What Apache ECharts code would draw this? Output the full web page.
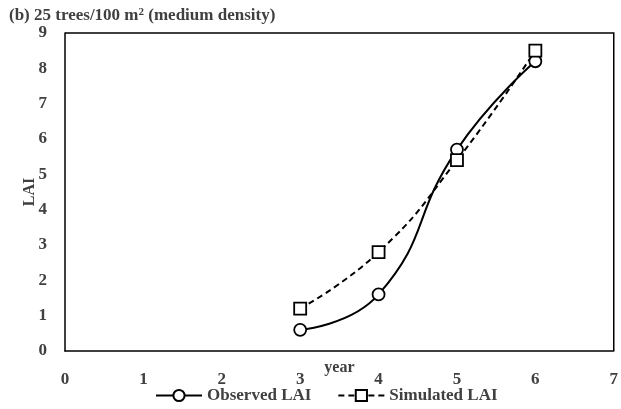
<!DOCTYPE html>
<html>
<head>
<meta charset="utf-8">
<script src="https://cdn.jsdelivr.net/npm/echarts@6/dist/echarts.min.js"></script>
<style>
  html, body { margin: 0; padding: 0; background: #fff; }
  #chart { width: 621px; height: 409px; }
</style>
</head>
<body>
<div id="chart"></div>
<script>
const years = [3, 4, 5, 6];
const observedLAI = [0.6, 1.6, 5.7, 8.2];
const simulatedLAI = [1.2, 2.8, 5.4, 8.5];

const font = '"Liberation Serif", "Times New Roman", serif';
const textColor = '#404040';

const chart = echarts.init(document.getElementById('chart'));
chart.setOption({
  animation: false,
  textStyle: { fontFamily: font },
  title: {
    text: '(b) 25 trees/100 m{sup|2} (medium density)',
    left: 4, top: 2,
    textStyle: {
      fontFamily: font, fontSize: 17, fontWeight: 'bold', color: textColor,
      rich: { sup: { fontSize: 11, fontWeight: 'bold', verticalAlign: 'top', padding: [0, 0, 7, 0], color: textColor, fontFamily: font } }
    }
  },
  grid: { left: 65, right: 5, top: 33, bottom: 58 },
  legend: {
    bottom: 0, left: 150,
    itemWidth: 46, itemHeight: 14, itemGap: 26,
    textStyle: { fontFamily: font, fontSize: 17, fontWeight: 'bold', color: textColor },
    data: ['Observed LAI', 'Simulated LAI']
  },
  xAxis: {
    type: 'value', min: 0, max: 7, interval: 1,
    name: 'year', nameLocation: 'middle', nameGap: 9, nameMoveOverlap: false,
    nameTextStyle: { fontFamily: font, fontSize: 16, fontWeight: 'bold', color: textColor },
    axisLine: { lineStyle: { color: '#000', width: 1.5 } },
    axisTick: { show: false },
    splitLine: { show: false },
    axisLabel: { fontFamily: font, fontSize: 17, fontWeight: 'bold', color: textColor, margin: 20 }
  },
  yAxis: {
    type: 'value', min: 0, max: 9, interval: 1,
    name: 'LAI', nameLocation: 'middle', nameGap: 27, nameMoveOverlap: false,
    nameTextStyle: { fontFamily: font, fontSize: 16, fontWeight: 'bold', color: textColor },
    axisLine: { show: true, lineStyle: { color: '#000', width: 1.5 } },
    axisTick: { show: false },
    splitLine: { show: false },
    axisLabel: { fontFamily: font, fontSize: 17, fontWeight: 'bold', color: textColor, margin: 18 }
  },
  series: [
    {
      name: 'Observed LAI', type: 'line', smooth: 0.5,
      data: years.map((y, i) => [y, observedLAI[i]]),
      symbol: 'circle', symbolSize: 12,
      lineStyle: { color: '#000', width: 2 },
      itemStyle: { color: '#fff', borderColor: '#000', borderWidth: 1.8 }
    },
    {
      name: 'Simulated LAI', type: 'line', smooth: 0.5,
      data: years.map((y, i) => [y, simulatedLAI[i]]),
      symbol: 'rect', symbolSize: 12,
      lineStyle: { color: '#000', width: 2, type: [6, 4] },
      itemStyle: { color: '#fff', borderColor: '#000', borderWidth: 1.8 }
    }
  ]
});

// top and right frame lines
const pt0 = chart.convertToPixel({ gridIndex: 0 }, [0, 9]);
const pt1 = chart.convertToPixel({ gridIndex: 0 }, [7, 0]);
chart.setOption({
  graphic: [{
    type: 'polyline',
    shape: { points: [[pt0[0], pt0[1]], [pt1[0], pt0[1]], [pt1[0], pt1[1]]] },
    style: { stroke: '#000', lineWidth: 1.5, fill: null }
  }]
});
</script>
</body>
</html>
